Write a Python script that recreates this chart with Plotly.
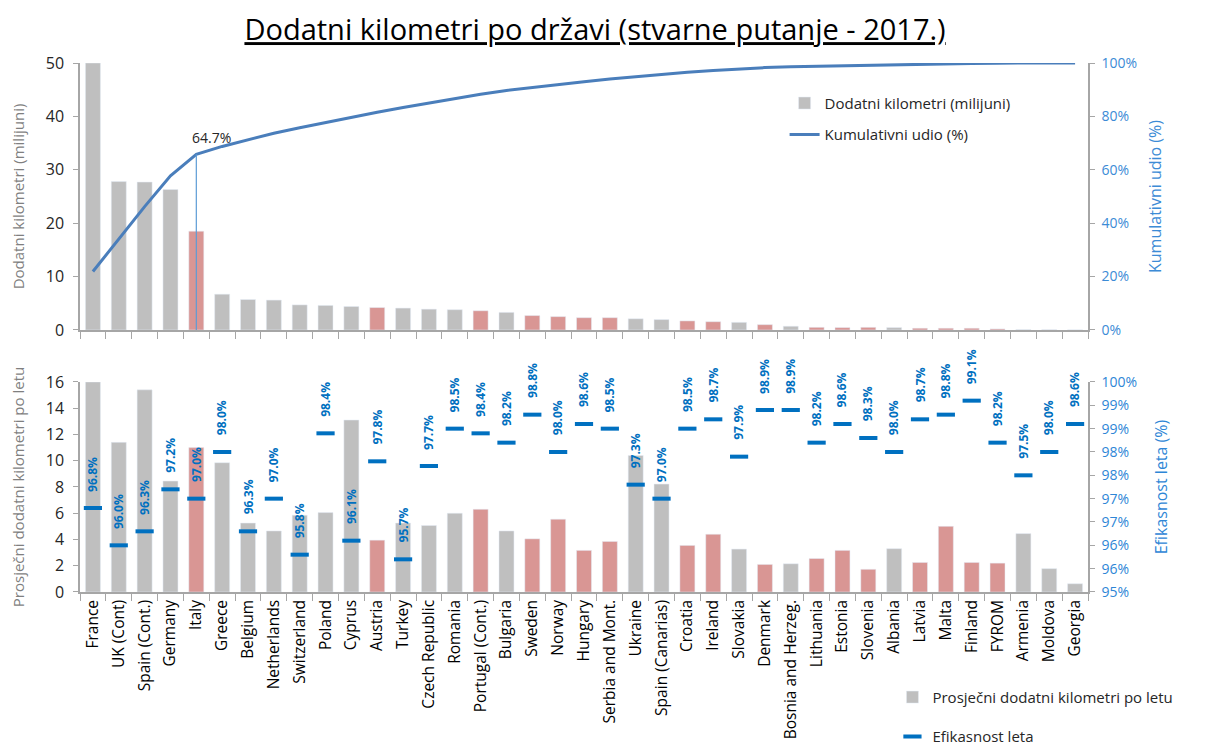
import numpy as np
import plotly.graph_objects as go

FONT = "Open Sans"
GRAY = "#BFBFBF"
RED = "#D99694"
BLUE_LINE = "#4A7EBB"
BLUE = "#0070C0"
AXIS = "#A6A6A6"

countries = [
    "France", "UK (Cont)", "Spain (Cont.)", "Germany", "Italy", "Greece", "Belgium",
    "Netherlands", "Switzerland", "Poland", "Cyprus", "Austria", "Turkey",
    "Czech Republic", "Romania", "Portugal (Cont.)", "Bulgaria", "Sweden", "Norway",
    "Hungary", "Serbia and Mont.", "Ukraine", "Spain (Canarias)", "Croatia", "Ireland",
    "Slovakia", "Denmark", "Bosnia and Herzeg.", "Lithuania", "Estonia", "Slovenia",
    "Albania", "Latvia", "Malta", "Finland", "FYROM", "Armenia", "Moldova", "Georgia",
]

# countries drawn in red
highlighted = [
    "Italy", "Austria", "Portugal (Cont.)", "Sweden", "Norway", "Hungary",
    "Serbia and Mont.", "Croatia", "Ireland", "Denmark", "Lithuania", "Estonia",
    "Slovenia", "Latvia", "Malta", "Finland", "FYROM",
]

# additional km (millions)
extra_km = [
    50.0, 27.8, 27.7, 26.3, 18.5, 6.7, 5.7, 5.6, 4.7, 4.6, 4.4, 4.2, 4.1,
    3.9, 3.8, 3.6, 3.3, 2.7, 2.5, 2.3, 2.3, 2.1, 1.95, 1.7, 1.55,
    1.43, 1.0, 0.7, 0.5, 0.45, 0.5, 0.45, 0.33, 0.33, 0.33, 0.2, 0.07, 0.05, 0.02,
]

# average additional km per flight
km_per_flight = [
    16.0, 11.4, 15.4, 8.45, 11.0, 9.85, 5.25, 4.65, 5.85, 6.05, 13.1, 3.95, 5.25,
    5.07, 6.0, 6.3, 4.65, 4.05, 5.55, 3.17, 3.85, 10.4, 8.22, 3.55, 4.4,
    3.27, 2.1, 2.15, 2.55, 3.17, 1.73, 3.3, 2.25, 5.0, 2.25, 2.2, 4.45, 1.78, 0.63,
]

# flight efficiency (%)
efficiency = [
    96.8, 96.0, 96.3, 97.2, 97.0, 98.0, 96.3, 97.0, 95.8, 98.4, 96.1, 97.8, 95.7,
    97.7, 98.5, 98.4, 98.2, 98.8, 98.0, 98.6, 98.5, 97.3, 97.0, 98.5, 98.7,
    97.9, 98.9, 98.9, 98.2, 98.6, 98.3, 98.0, 98.7, 98.8, 99.1, 98.2, 97.5, 98.0, 98.6,
]

eff_ticks = [95.0, 95.5, 96.0, 96.5, 97.0, 97.5, 98.0, 98.5, 99.0, 99.5]
eff_ticktext = ["95%", "96%", "96%", "97%", "97%", "98%", "98%", "99%", "99%", "100%"]

cum_share = np.cumsum(extra_km) / np.sum(extra_km)
bar_colors = [RED if c in highlighted else GRAY for c in countries]
italy = countries.index("Italy")
cat_range = [-0.5, len(countries) - 0.5]

fig = go.Figure()

# top chart
fig.add_trace(go.Bar(
    x=countries, y=extra_km, marker_color=bar_colors, name="Dodatni kilometri (milijuni)",
    xaxis="x", yaxis="y", legend="legend", legendgroup="a",
))
fig.add_trace(go.Scatter(
    x=countries, y=cum_share, mode="lines", line=dict(color=BLUE_LINE, width=3),
    name="Kumulativni udio (%)", xaxis="x", yaxis="y2", legend="legend", legendgroup="b",
))
fig.add_trace(go.Scatter(
    x=[countries[italy], countries[italy]], y=[0, cum_share[italy]], mode="lines",
    line=dict(color="#5B9BD5", width=1.2), showlegend=False, xaxis="x", yaxis="y2",
))

# bottom chart
fig.add_trace(go.Bar(
    x=countries, y=km_per_flight, marker_color=bar_colors,
    name="Prosječni dodatni kilometri po letu", xaxis="x2", yaxis="y3",
    legend="legend2", legendgroup="c",
))
fig.add_trace(go.Scatter(
    x=countries, y=efficiency, mode="markers", name="Efikasnost leta",
    marker=dict(symbol="line-ew", size=13, line=dict(color=BLUE, width=4), color=BLUE),
    xaxis="x2", yaxis="y4", legend="legend2", legendgroup="d",
))

annotations = [
    dict(x=c, y=v, xref="x2", yref="y4", text=f"<b>{v:.1f}%</b>", showarrow=False,
         textangle=-90, yanchor="middle", xanchor="center", yshift=34,
         font=dict(family=FONT, size=12, color=BLUE))
    for c, v in zip(countries, efficiency)
]
annotations.append(dict(
    x=countries[italy], y=cum_share[italy], xref="x", yref="y2", text="64.7%",
    showarrow=False, yanchor="bottom", xshift=15, yshift=5,
    font=dict(family=FONT, size=14, color="#262626"),
))

axis_common = dict(showline=True, linecolor=AXIS, linewidth=1.5, ticks="outside",
                   tickcolor=AXIS, showgrid=False, zeroline=False, automargin=False)

# the page body has an 8px margin, so the figure is 8px smaller than the window
fig.update_layout(
    width=1201, height=745,
    margin=dict(l=72, r=121, t=55, b=161, autoexpand=False),
    plot_bgcolor="white", paper_bgcolor="white",
    font=dict(family=FONT, color="#262626"),
    bargap=0.42,
    title=dict(text="<u>Dodatni kilometri po državi (stvarne putanje - 2017.)</u>",
               x=0.4888, xanchor="center", y=0.9705, yanchor="middle",
               font=dict(family=FONT, size=29, color="black")),
    xaxis=dict(axis_common, domain=[0, 1], anchor="y", showticklabels=False,
               range=cat_range, tickson="boundaries", ticklen=7),
    yaxis=dict(axis_common, domain=[0.4953, 1], range=[0, 50], dtick=10, ticklen=5,
               ticklabelstandoff=6, tickfont=dict(size=16),
               title=dict(text="Dodatni kilometri (milijuni)", standoff=20,
                          font=dict(size=15, color="#7F7F7F"))),
    yaxis2=dict(axis_common, overlaying="y", side="right", range=[0, 1], dtick=0.2,
                tickformat=".0%", ticklen=5, ticklabelstandoff=4,
                tickfont=dict(size=14, color="#3C8BD6"),
                title=dict(text="Kumulativni udio (%)", standoff=14,
                           font=dict(size=16, color="#3C8BD6"))),
    xaxis2=dict(axis_common, domain=[0, 1], anchor="y3", range=cat_range,
                tickson="boundaries", ticklen=7,
                tickangle=-90, tickfont=dict(size=15.5, color="black")),
    yaxis3=dict(axis_common, domain=[0, 0.397], range=[0, 16], dtick=2, ticklen=5,
                ticklabelstandoff=6, tickfont=dict(size=16),
                title=dict(text="Prosječni dodatni kilometri po letu", standoff=20,
                           font=dict(size=15, color="#7F7F7F"))),
    yaxis4=dict(axis_common, overlaying="y3", side="right", range=[95, 99.5],
                tickvals=eff_ticks, ticktext=eff_ticktext, ticklen=5, ticklabelstandoff=4,
                tickfont=dict(size=14, color="#2E86D6"),
                title=dict(text="Efikasnost leta (%)", standoff=20,
                           font=dict(size=16, color="#2E86D6"))),
    legend=dict(x=0.699, y=0.955, xanchor="left", yanchor="top", bgcolor="rgba(0,0,0,0)",
                font=dict(size=15), tracegroupgap=9),
    legend2=dict(x=0.806, y=-0.168, xanchor="left", yanchor="top", bgcolor="rgba(0,0,0,0)",
                 font=dict(size=15), tracegroupgap=17),
    annotations=annotations,
)

fig.write_html("out.html")
